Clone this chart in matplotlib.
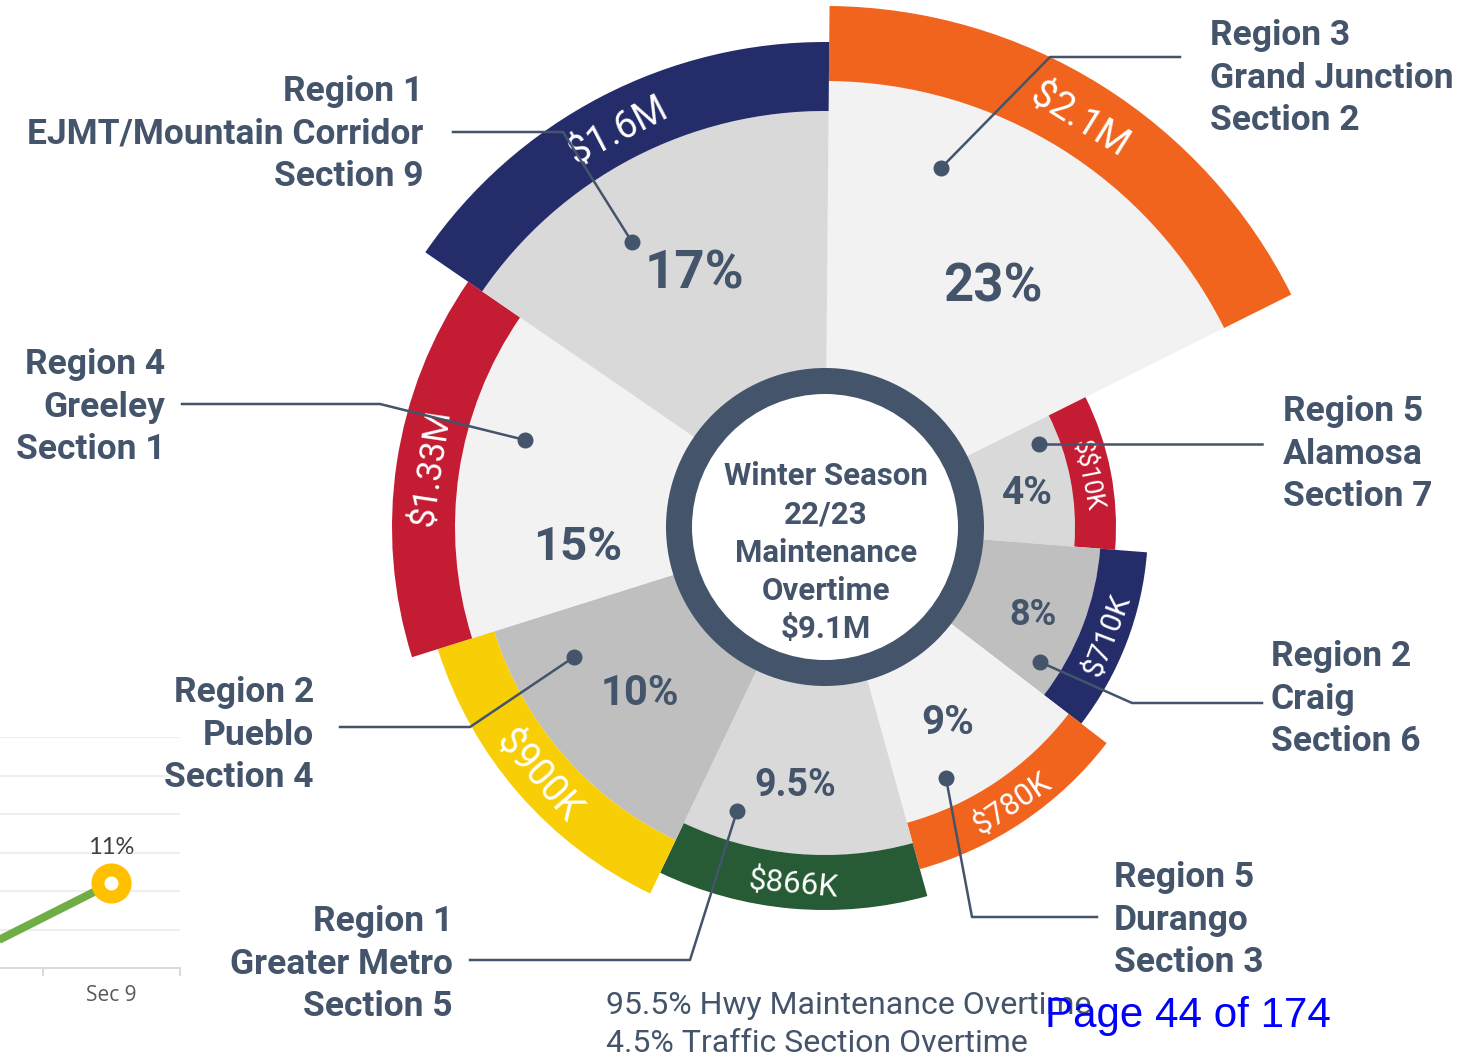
import numpy as np
import matplotlib
matplotlib.use('Agg')
import matplotlib.pyplot as plt
from matplotlib.patches import Wedge, Circle

plt.rcParams['text.parse_math'] = False

# sectors, clockwise from 12 o'clock
regions = [['Region 3', 'Grand Junction', 'Section 2'],
           ['Region 5', 'Alamosa', 'Section 7'],
           ['Region 2', 'Craig', 'Section 6'],
           ['Region 5', 'Durango', 'Section 3'],
           ['Region 1', 'Greater Metro', 'Section 5'],
           ['Region 2', 'Pueblo', 'Section 4'],
           ['Region 4', 'Greeley', 'Section 1'],
           ['Region 1', 'EJMT/Mountain Corridor', 'Section 9']]
pct_labels = ['23%', '4%', '8%', '9%', '9.5%', '10%', '15%', '17%']
amount_labels = ['$2.1M', '$$10K', '$710K', '$780K', '$866K', '$900K', '$1.33M', '$1.6M']
spans = [63, 31, 33, 37, 41, 47, 52, 56]          # degrees
r_inner = [446, 250, 276, 307, 328, 347, 370, 416]
r_outer = [521, 291, 323, 355, 383, 406, 433, 485]
center_lines = ['Winter Season', '22/23', 'Maintenance', 'Overtime', '$9.1M']
note_lines = ['95.5% Hwy Maintenance Overtime', '4.5% Traffic Section Overtime']

# fragment of the neighbouring line chart
sec_labels = ['Sec 7', 'Sec 9']
sec_values = [2, 11]

SLATE = '#44546a'
grays = ['#f2f2f2', '#d9d9d9', '#bfbfbf', '#f2f2f2', '#d9d9d9', '#bfbfbf', '#f2f2f2', '#d9d9d9']
bands = ['#f0641e', '#c41c33', '#252c6a', '#f0641e', '#265b35', '#f8ce07', '#c41c33', '#252c6a']
amt_size = [27.5, 18, 21.5, 22, 22.5, 27, 25, 27]
pct_size = [38, 28, 26, 29, 27, 30, 34, 38]
pct_pos = [(993, 283), (1027, 490), (1033, 612), (948, 720), (795, 783), (640, 690), (578, 543), (694, 270)]
leaders = [[(941, 168), (1050, 57), (1180, 57)],
           [(1039, 444), (1262, 444)],
           [(1040, 662), (1132, 703), (1262, 703)],
           [(946, 778), (972, 917), (1097, 917)],
           [(737, 811), (690, 960), (470, 960)],
           [(574, 657), (470, 727), (340, 727)],
           [(525, 440), (380, 404), (182, 404)],
           [(632, 242), (563, 132), (453, 132)]]
label_pos = [(1210, 75, 'left'), (1283, 451, 'left'), (1271, 696, 'left'), (1114, 917, 'left'),
             (453, 961, 'right'), (314, 732, 'right'), (165, 404, 'right'), (423, 131, 'right')]

W, H = 1476, 1055
cx, cy = 825, 527
fig = plt.figure(figsize=(W / 100, H / 100), dpi=100)


def put(ax, x, y, s, size, **kw):
    # y is the middle of the capitals, in pixels
    ax.text(x, y + 0.355 * size * 100 / 72, s, fontsize=size, va='baseline', **kw)


# small piece of the other chart, bottom left
ax2 = fig.add_axes([-95 / W, (H - 968) / H, 275 / W, 231 / H])
ax2.patch.set_visible(False)
ax2.set_xlim(-0.5, 1.5)
ax2.set_ylim(0, 30)
ax2.set_yticks([5, 10, 15, 20, 25, 30])
ax2.yaxis.grid(True, color='#eeeeee', lw=1.5)
ax2.tick_params(axis='y', length=0, labelleft=False)
ax2.set_xticks([0, 1])
ax2.set_xticklabels(sec_labels, family='Open Sans', fontsize=15, color='#595959')
ax2.tick_params(axis='x', length=0, pad=12)
ax2.set_xticks([0.5, 1.5], minor=True)
ax2.tick_params(axis='x', which='minor', length=6, color='#d9d9d9', width=1.4)
for s in ['top', 'left', 'right']:
    ax2.spines[s].set_visible(False)
ax2.spines['bottom'].set_color('#d9d9d9')
ax2.spines['bottom'].set_linewidth(1.4)
ax2.plot(range(len(sec_values)), sec_values, color='#70ad47', lw=5.8, solid_capstyle='butt', zorder=3)
ax2.plot([1], [sec_values[1]], 'o', ms=19.5, mfc='white', mec='#ffc000', mew=9.4, zorder=4, clip_on=False)
ax2.annotate('11%', (1, sec_values[1]), xytext=(0, 21), textcoords='offset points',
             ha='center', family='Lato', fontsize=17, color='#404040')

ax = fig.add_axes([0, 0, 1, 1])
ax.set_zorder(2)
ax.patch.set_visible(False)
ax.set_xlim(0, W)
ax.set_ylim(H, 0)
ax.axis('off')

start = 0.5
for i in range(len(spans)):
    t1, t2 = start, start + spans[i]
    start = t2
    ax.add_patch(Wedge((cx, cy), r_inner[i], t1 - 90, t2 - 90, facecolor=grays[i], lw=0))
    ax.add_patch(Wedge((cx, cy), r_outer[i], t1 - 90, t2 - 90, width=r_outer[i] - r_inner[i],
                       facecolor=bands[i], lw=0))
    th = (t1 + t2) / 2
    rm = (r_inner[i] + r_outer[i]) / 2
    x = cx + rm * np.sin(np.radians(th))
    y = cy - rm * np.cos(np.radians(th))
    rot = -th if (th < 90 or th > 270) else 180 - th
    ax.text(x, y, amount_labels[i], rotation=rot, rotation_mode='anchor', ha='center',
            va='center_baseline', color='white', fontsize=amt_size[i], family='Roboto')

ax.add_patch(Circle((cx, cy), 159, facecolor=SLATE, lw=0))
ax.add_patch(Circle((cx, cy), 133, facecolor='white', lw=0))

for i in range(len(spans)):
    px, py = pct_pos[i]
    put(ax, px, py, pct_labels[i], pct_size[i], ha='center', color=SLATE,
        family='Roboto', fontweight='bold')
    pts = np.array(leaders[i])
    ax.plot(pts[:, 0], pts[:, 1], color=SLATE, lw=1.8, zorder=5)
    ax.plot(pts[0, 0], pts[0, 1], 'o', ms=10.5, color=SLATE, zorder=6)
    lx, ly, ha = label_pos[i]
    for j, line in enumerate(regions[i]):
        put(ax, lx, ly + (j - 1) * 42.5, line, 25.5, ha=ha, color=SLATE,
            family='Roboto', fontweight='bold')

for j, line in enumerate(center_lines):
    put(ax, 826, 474 + j * 38.3, line, 22.5, ha='center', color=SLATE,
        family='Roboto', fontweight='bold')

for j, line in enumerate(note_lines):
    put(ax, 606, 1003 + j * 38, line, 23, ha='left', color=SLATE, family='Roboto')

put(ax, 1045, 1012, 'Page 44 of 174', 30.3, ha='left', color='#0000ff', family='Liberation Sans')

fig.savefig('out.png', dpi=100)
